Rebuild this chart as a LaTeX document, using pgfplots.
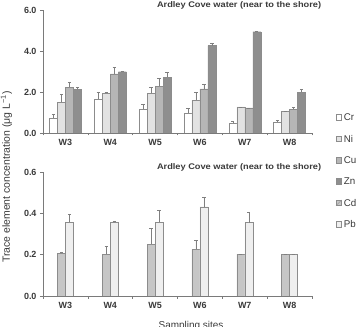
\documentclass[border=0pt]{standalone}
\usepackage{fontspec}
\setmainfont{Liberation Sans}
\usepackage{pgfplots}
\pgfplotsset{compat=1.18}
\usepackage{pgfplotstable}

\definecolor{axisgray}{HTML}{7A7A7A}
\definecolor{txt}{HTML}{3A3A3A}
\definecolor{edge}{HTML}{8C8C8C}
\definecolor{errgray}{HTML}{7F7F7F}
\definecolor{crfill}{HTML}{FFFFFF}
\definecolor{nifill}{HTML}{E2E2E2}
\definecolor{cufill}{HTML}{B6B6B6}
\definecolor{znfill}{HTML}{8E8E8E}
\definecolor{cdfill}{HTML}{C6C6C6}
\definecolor{pbfill}{HTML}{EFEFEF}

% site index, mean and upper error (ug/L)
\pgfplotstableread{
site Cr Crerr Ni Nierr Cu Cuerr Zn Znerr
0 0.72 0.21 1.50 0.39 2.24 0.25 2.13 0.10
1 1.66 0.32 1.94 0.04 2.88 0.31 2.99 0.00
2 1.16 0.22 1.94 0.29 2.29 0.36 2.72 0.22
3 0.99 0.21 1.60 0.40 2.15 0.25 4.26 0.14
4 0.47 0.11 1.28 0.00 1.23 0.00 4.94 0.04
5 0.52 0.08 1.04 0.03 1.16 0.09 1.98 0.14
}\majortab

\pgfplotstableread{
site Cd Cderr Pb Pberr
0 0.208 0.006 0.358 0.040
1 0.203 0.036 0.358 0.006
2 0.250 0.078 0.358 0.055
3 0.226 0.042 0.432 0.045
4 0.203 0.000 0.355 0.048
5 0.200 0.000 0.200 0.000
}\minortab

\pgfplotsset{
  every axis title shift=0pt,
  panel/.style={
    scale only axis,
    width=269bp,
    xmin=-0.5, xmax=5.5,
    ymin=0,
    axis x line*=bottom,
    axis y line*=left,
    axis line style={draw=axisgray, line width=0.5pt, -},
    tick style={draw=axisgray, line width=0.5pt},
    tick align=outside,
    xtick={0,...,5},
    xticklabels={W3,W4,W5,W6,W7,W8},
    major x tick style={draw=none},
    minor xtick={-0.5,0.5,...,5.5},
    minor tick length=2.5bp,
    major tick length=3bp,
    ticklabel style={font=\bfseries\fontsize{9}{10}\selectfont, text=txt},
    /pgf/number format/assume math mode=true,
    /pgf/number format/fixed,
    /pgf/number format/fixed zerofill,
    /pgf/number format/precision=1,
    ybar=0pt,
    bar width=8bp,
    error bars/y dir=plus,
    error bars/y explicit,
    error bars/error bar style={draw=errgray, line width=0.5pt},
    error bars/error mark options={rotate=90, mark size=1.6bp, draw=errgray, line width=0.5pt},
    title style={font=\bfseries\fontsize{8.2}{9}\selectfont, text=txt, inner sep=0pt,
                 xscale=1.13, at={(0.729,1.0)}, anchor=base, yshift=2.6bp},
  },
  sq/.style={legend image code/.code={\draw[draw=edge, line width=0.4pt, #1] (0bp,-2.8bp) rectangle (5.6bp,2.8bp);}},
}

\begin{document}
\begin{tikzpicture}
\path[use as bounding box] (0,0) rectangle (357bp,327bp);

\begin{axis}[panel,
  at={(43bp,194bp)}, anchor=south west,
  height=123bp,
  ymax=6, ytick={0,2,4,6},
  title={Ardley Cove water (near to the shore)},
]
\addplot[fill=crfill, draw=edge, line width=0.4pt] table[x=site, y=Cr, y error=Crerr] {\majortab};
\addplot[fill=nifill, draw=edge, line width=0.4pt] table[x=site, y=Ni, y error=Nierr] {\majortab};
\addplot[fill=cufill, draw=edge, line width=0.4pt] table[x=site, y=Cu, y error=Cuerr] {\majortab};
\addplot[fill=znfill, draw=edge, line width=0.4pt] table[x=site, y=Zn, y error=Znerr] {\majortab};
\end{axis}

\begin{axis}[panel,
  at={(43bp,31bp)}, anchor=south west,
  height=124bp,
  ymax=0.6, ytick={0,0.2,0.4,0.6},
  title={Ardley Cove water (near to the shore)},
  legend style={draw=none, fill=none, inner sep=0pt,
    at={(1.088,1.472)}, anchor=north west,
    row sep=14.4bp,
    font=\fontsize{9.8}{10}\selectfont, text=txt,
    nodes={inner sep=0pt, text height=7bp, text depth=0bp},
    /tikz/every odd column/.append style={column sep=2bp}},
  legend cell align=left,
]
\addlegendimage{sq={fill=crfill}}
\addlegendentry{Cr}
\addlegendimage{sq={fill=nifill}}
\addlegendentry{Ni}
\addlegendimage{sq={fill=cufill}}
\addlegendentry{Cu}
\addlegendimage{sq={fill=znfill}}
\addlegendentry{Zn}
\addlegendimage{legend image code/.code={
  \draw[draw=edge, line width=0.4pt, fill=cdfill] (0bp,-2.8bp) rectangle (5.6bp,2.8bp);
  \draw[draw=edge, line width=0.4pt] (0bp,-2.8bp) -- (5.6bp,2.8bp);}}
\addlegendentry{Cd}
\addlegendimage{sq={fill=pbfill}}
\addlegendentry{Pb}
\addplot[fill=cdfill, draw=edge, line width=0.4pt, forget plot, bar shift=-4bp] table[x=site, y=Cd, y error=Cderr] {\minortab};
\addplot[fill=pbfill, draw=edge, line width=0.4pt, forget plot, bar shift=4bp] table[x=site, y=Pb, y error=Pberr] {\minortab};
\end{axis}

\node[rotate=90, font=\fontsize{10.5}{12}\selectfont, text=txt] at (6.5bp,150bp)
  {Trace element concentration (μg L\textsuperscript{−1})};
\node[anchor=north, inner sep=0pt, font=\fontsize{10}{12}\selectfont, text=txt] at (191bp,5.5bp)
  {Sampling sites};
\end{tikzpicture}
\end{document}
